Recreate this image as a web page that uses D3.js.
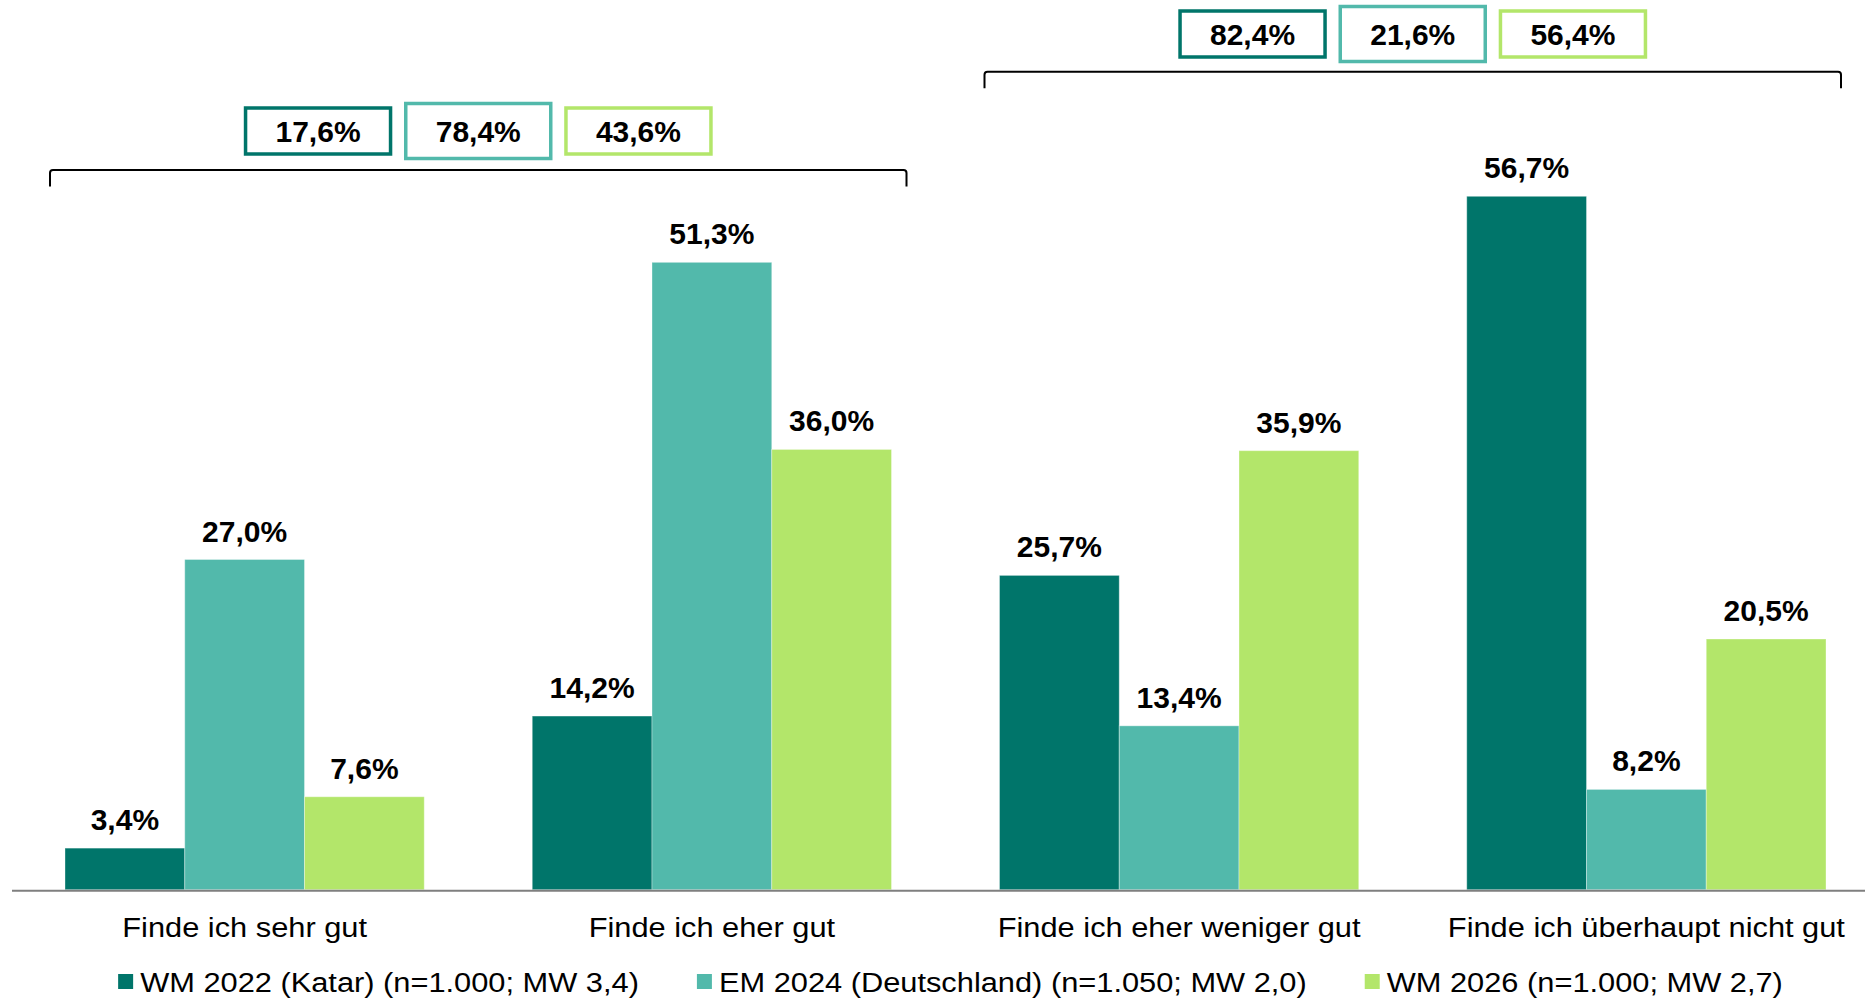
<!DOCTYPE html>
<html lang="de">
<head>
  <meta charset="UTF-8">
  <title>WM / EM Bewertung</title>
  <script src="https://cdnjs.cloudflare.com/ajax/libs/d3/7.8.5/d3.min.js"></script>
  <style>
    body {
      margin: 0;
      background: white;
    }
    svg {
      display: block;
      font-family: "Liberation Sans", Arial, sans-serif;
    }
    .value {
      font-weight: bold;
      font-size: 30px;
      text-anchor: middle;
    }
    .cat, .legend-label {
      font-size: 28px;
    }
  </style>
</head>
<body>
  <script>
    var categories = ["Finde ich sehr gut", "Finde ich eher gut", "Finde ich eher weniger gut", "Finde ich überhaupt nicht gut"];
    var series = ["WM 2022 (Katar) (n=1.000; MW 3,4)", "EM 2024 (Deutschland) (n=1.050; MW 2,0)", "WM 2026 (n=1.000; MW 2,7)"];
    var wm2022 = [3.4, 14.2, 25.7, 56.7];
    var em2024 = [27.0, 51.3, 13.4, 8.2];
    var wm2026 = [7.6, 36.0, 35.9, 20.5];
    // summed boxes: positive (first two) and negative (last two)
    var topBoxPositive = [17.6, 78.4, 43.6];
    var topBoxNegative = [82.4, 21.6, 56.4];
    var colors = ["#00756A", "#52B9AB", "#B3E66A"];

    var w = 1865;
    var h = 999;
    var baseY = 889.7;
    var sx = 1.1; // regular text is drawn a bit wider

    var values = [wm2022, em2024, wm2026];
    var fmt = function(v) { return v.toFixed(1).replace(".", ",") + "%"; };

    var svg = d3.select("body").append("svg")
      .attr("width", w)
      .attr("height", h);

    var x0 = d3.scaleBand()
      .domain(categories)
      .range([11, 1880]);

    var x1 = d3.scaleBand()
      .domain(d3.range(series.length))
      .range([54, x0.bandwidth() - 54]);

    var y = d3.scaleLinear()
      .domain([0, 56.7])
      .range([baseY, 196.3]);

    var rows = [];
    categories.forEach(function(c, ci) {
      values.forEach(function(s, si) {
        rows.push({ cat: c, s: si, v: s[ci] });
      });
    });

    svg.selectAll(".bar")
      .data(rows)
      .enter()
      .append("rect")
      .attr("class", "bar")
      .attr("x", function(d) { return x0(d.cat) + x1(d.s); })
      .attr("y", function(d) { return y(d.v); })
      .attr("width", x1.bandwidth())
      .attr("height", function(d) { return baseY - y(d.v); })
      .attr("fill", function(d) { return colors[d.s]; })
      .attr("stroke", "rgba(255,255,255,0.35)")
      .attr("stroke-width", 1);

    svg.selectAll(".value")
      .data(rows)
      .enter()
      .append("text")
      .attr("class", "value")
      .attr("x", function(d) { return x0(d.cat) + x1(d.s) + x1.bandwidth() / 2; })
      .attr("y", function(d) { return y(d.v) - 18; })
      .text(function(d) { return fmt(d.v); });

    // axis line
    svg.append("line")
      .attr("x1", 12)
      .attr("x2", w)
      .attr("y1", baseY + 1)
      .attr("y2", baseY + 1)
      .attr("stroke", "#7f7f7f")
      .attr("stroke-width", 2);

    svg.selectAll(".cat")
      .data(categories)
      .enter()
      .append("text")
      .attr("class", "cat")
      .attr("text-anchor", "middle")
      .attr("transform", function(d) {
        return "translate(" + (x0(d) + x0.bandwidth() / 2) + ",936.7) scale(" + sx + ",1)";
      })
      .text(function(d) { return d; });

    // brackets with summary boxes
    var brackets = [
      { from: 0, to: 1, lineY: 170, boxY: 131, vals: topBoxPositive },
      { from: 2, to: 3, lineY: 71.7, boxY: 34, vals: topBoxNegative }
    ];

    brackets.forEach(function(b) {
      var left = x0(categories[b.from]) + x1(0) - 15;
      var right = x0(categories[b.to]) + x1(series.length - 1) + x1.bandwidth() + 15;
      var mid = (left + right) / 2;

      svg.append("path")
        .attr("d", "M" + left + "," + (b.lineY + 16.5) +
          "V" + (b.lineY + 3) + "Q" + left + "," + b.lineY + " " + (left + 3) + "," + b.lineY +
          "H" + (right - 3) + "Q" + right + "," + b.lineY + " " + right + "," + (b.lineY + 3) +
          "V" + (b.lineY + 16.5))
        .attr("fill", "none")
        .attr("stroke", "#000")
        .attr("stroke-width", 2);

      b.vals.forEach(function(v, i) {
        var cx = mid + (i - 1) * 160.2;
        var bh = i === 1 ? 55 : 46;
        svg.append("rect")
          .attr("x", cx - 72.5)
          .attr("y", b.boxY - bh / 2)
          .attr("width", 145)
          .attr("height", bh)
          .attr("fill", "white")
          .attr("stroke", colors[i])
          .attr("stroke-width", 3.5);

        svg.append("text")
          .attr("class", "value")
          .attr("x", cx)
          .attr("y", b.boxY + 11)
          .text(fmt(v));
      });
    });

    // legend
    var legend = svg.append("g");
    var lx = 0;
    series.forEach(function(s, i) {
      var g = legend.append("g").attr("transform", "translate(" + lx + ",0)");
      g.append("rect")
        .attr("x", 0)
        .attr("y", 974)
        .attr("width", 15)
        .attr("height", 15)
        .attr("fill", colors[i]);
      var t = g.append("text")
        .attr("class", "legend-label")
        .attr("transform", "translate(22,991.5) scale(" + sx + ",1)")
        .text(s);
      lx += 22 + t.node().getComputedTextLength() * sx + 58;
    });
    var total = lx - 58;
    legend.attr("transform", "translate(" + (950.5 - total / 2) + ",0)");
  </script>
</body>
</html>
